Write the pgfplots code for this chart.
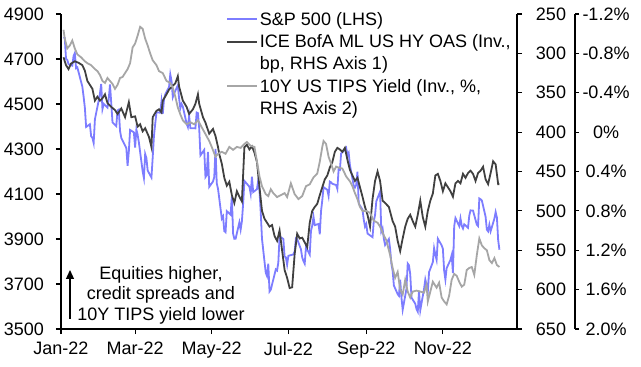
\documentclass[border=0pt]{standalone}
\usepackage{fontspec}
\setmainfont{Liberation Sans}
\usepackage{pgfplots}
\pgfplotsset{compat=1.18}
\usetikzlibrary{arrows.meta}
\definecolor{spblue}{RGB}{125,125,255}
\definecolor{hyblack}{RGB}{64,64,64}
\definecolor{tipsgray}{RGB}{166,166,166}
\pgfplotsset{
  base/.style={
    width=456bp, height=315bp, scale only axis,
    xmin=0, xmax=363,
    font=\fontsize{18bp}{21bp}\selectfont,
    /pgf/number format/assume math mode=true,
    /pgf/number format/1000 sep={},
    tick align=outside, major tick length=5bp,
    every tick/.style={black, line width=1.2bp},
    axis line style={black, line width=1.5bp},
  }
}
\begin{document}
\begin{tikzpicture}
\path[use as bounding box] (-61bp,-38bp) rectangle (580bp,329bp);
% S&P 500 (LHS)
\begin{axis}[base, axis x line*=bottom, axis y line*=left,
  ymin=3500, ymax=4900, ytick={3500,3700,...,4900},
  xtick={0,59,120,181,243,304},
  xticklabels={Jan-22,Mar-22,May-22,Jul-22,Sep-22,Nov-22},
  xticklabel style={anchor=north, inner sep=0pt, yshift=-8bp},
  yticklabel style={anchor=east, inner sep=0pt, xshift=-12bp}]
\addplot[spblue, line width=1.8bp] coordinates {
(2,4796.6)(3,4793.5)(4,4700.6)(5,4696.1)(6,4677.0)(9,4670.3)(10,4713.1)(11,4726.4)(12,4659.0)(13,4662.9)(17,4577.1)(18,4532.8)(19,4482.7)(20,4397.9)(23,4410.1)(24,4356.5)(25,4349.9)(26,4326.5)(27,4431.9)(30,4515.6)(31,4546.5)(32,4589.4)(33,4477.4)(34,4500.5)(37,4483.9)(38,4521.5)(39,4587.2)(40,4504.1)(41,4418.6)(44,4401.7)(45,4471.1)(46,4475.0)(47,4380.3)(48,4348.9)(52,4304.8)(53,4225.5)(54,4288.7)(55,4384.7)(58,4373.9)(59,4306.3)(60,4386.5)(61,4363.5)(62,4328.9)(65,4201.1)(66,4170.7)(67,4277.9)(68,4259.5)(69,4204.3)(72,4173.1)(73,4262.5)(74,4357.9)(75,4411.7)(76,4463.1)(79,4461.2)(80,4511.6)(81,4456.2)(82,4520.2)(83,4543.1)(86,4575.5)(87,4631.6)(88,4602.5)(89,4530.4)(90,4545.9)(93,4582.6)(94,4525.1)(95,4481.2)(96,4500.2)(97,4488.3)(100,4412.5)(101,4397.5)(102,4446.6)(103,4392.6)(107,4391.7)(108,4462.2)(109,4459.5)(110,4393.7)(111,4271.8)(114,4296.1)(115,4175.2)(116,4183.9)(117,4287.5)(118,4131.9)(121,4155.4)(122,4175.5)(123,4300.2)(124,4146.9)(125,4123.3)(128,3991.2)(129,4001.1)(130,3935.2)(131,3930.1)(132,4023.9)(135,4008.0)(136,4088.9)(137,3923.7)(138,3900.8)(139,3901.4)(142,3973.8)(143,3941.5)(144,3978.7)(145,4057.8)(146,4158.2)(150,4132.2)(151,4101.2)(152,4176.8)(153,4108.5)(156,4121.4)(157,4160.7)(158,4115.8)(159,4017.8)(160,3900.9)(163,3749.6)(164,3735.5)(165,3790.0)(166,3666.8)(167,3674.8)(171,3764.8)(172,3759.9)(173,3795.7)(174,3911.7)(177,3900.1)(178,3821.6)(179,3818.8)(180,3785.4)(181,3825.3)(185,3831.4)(186,3845.1)(187,3902.6)(188,3899.4)(191,3854.4)(192,3818.8)(193,3801.8)(194,3790.4)(195,3863.2)(198,3830.9)(199,3936.7)(200,3959.9)(201,3998.9)(202,3961.6)(205,3966.8)(206,3921.1)(207,4023.6)(208,4072.4)(209,4130.3)(212,4118.6)(213,4091.2)(214,4155.2)(215,4151.9)(216,4145.2)(219,4140.1)(220,4122.5)(221,4210.2)(222,4207.3)(223,4280.2)(226,4297.1)(227,4305.2)(228,4274.0)(229,4283.7)(230,4228.5)(233,4137.9)(234,4128.7)(235,4140.8)(236,4199.1)(237,4057.7)(240,4030.6)(241,3986.2)(242,3955.0)(243,3966.9)(244,3924.3)(248,3908.2)(249,3979.9)(250,4006.2)(251,4067.4)(254,4110.4)(255,3932.7)(256,3946.0)(257,3901.4)(258,3873.3)(261,3899.9)(262,3855.9)(263,3789.9)(264,3757.9)(265,3693.2)(268,3655.0)(269,3647.3)(270,3719.0)(271,3640.5)(272,3585.6)(275,3678.4)(276,3790.9)(277,3783.3)(278,3744.5)(279,3639.7)(282,3612.4)(283,3588.8)(284,3577.0)(285,3669.9)(286,3583.1)(289,3677.9)(290,3719.9)(291,3695.2)(292,3665.8)(293,3752.8)(296,3797.3)(297,3859.1)(298,3830.6)(299,3807.3)(300,3901.1)(303,3871.9)(304,3856.1)(305,3759.7)(306,3719.9)(307,3770.6)(310,3806.8)(311,3828.1)(312,3748.6)(313,3956.4)(314,3992.9)(317,3957.3)(318,3991.7)(319,3958.8)(320,3946.6)(321,3965.3)(324,3949.9)(325,4003.6)(326,4027.3)(328,4026.1)(331,3963.9)(332,3957.6)(333,4080.1)(334,4076.6)(335,4071.7)(338,3998.8)(339,3941.3)(340,3933.9)(341,3963.5)(342,3934.4)(345,3990.6)(346,4019.7)(347,3995.3)(348,3895.8)(349,3852.4)
};
\end{axis}
% HY OAS (RHS axis 1, inverted)
\begin{axis}[base, hide x axis, axis y line*=right, y dir=reverse,
  ymin=250, ymax=650, ytick={250,300,...,650},
  yticklabel style={anchor=center, inner sep=0pt, xshift=29bp}]
\addplot[hyblack, line width=1.8bp] coordinates {
(2,305)(4,315)(6,320)(8,313)(11,310)(14,312)(17,315)(19,322)(21,335)(23,340)(25,345)(27,360)(29,355)(31,360)(33,357)(35,352)(37,363)(40,368)(43,372)(45,377)(48,370)(51,381)(54,362)(56,381)(59,380)(61,393)(63,390)(65,399)(67,395)(70,406)(72,419)(73,381)(76,373)(78,371)(80,375)(81,360)(84,352)(86,346)(89,341)(91,338)(93,329)(94,342)(97,360)(100,368)(102,377)(105,371)(107,364)(109,352)(110,364)(113,381)(115,388)(118,402)(121,396)(123,405)(125,419)(126,428)(128,440)(130,458)(132,468)(134,463)(136,480)(138,490)(140,475)(142,482)(144,488)(146,419)(148,416)(150,422)(152,418)(154,426)(156,438)(158,470)(160,500)(162,510)(164,515)(166,520)(168,518)(170,532)(172,538)(174,525)(176,550)(178,575)(180,585)(182,598)(184,597)(186,555)(188,529)(190,535)(192,534)(194,540)(196,546)(198,515)(200,500)(202,495)(204,491)(206,480)(208,470)(210,460)(212,455)(214,445)(216,438)(218,425)(220,420)(222,422)(224,425)(226,420)(228,435)(230,448)(232,455)(234,462)(236,458)(238,470)(240,482)(242,495)(244,505)(246,520)(248,485)(250,462)(252,450)(254,462)(256,487)(258,490)(261,495)(264,513)(266,520)(268,538)(270,551)(272,535)(274,520)(276,510)(278,505)(280,513)(282,520)(284,505)(286,487)(288,508)(290,520)(292,500)(294,487)(296,478)(298,455)(300,453)(302,462)(304,475)(306,465)(308,470)(310,475)(312,482)(314,465)(316,462)(318,465)(320,453)(322,458)(324,452)(326,449)(328,453)(330,462)(332,452)(334,449)(336,444)(338,460)(340,466)(342,452)(344,437)(346,441)(348,466)(349,466)
};
\end{axis}
% TIPS (RHS axis 2, inverted) data + legend
\begin{axis}[base, hide axis, y dir=reverse, ymin=-1.2, ymax=2.0,
  legend style={at={(0.3618,1.0068)}, anchor=north west, draw=none, fill=none,
    inner sep=0pt, row sep=7.8bp, column sep=2bp,
    nodes={inner sep=0pt},
    font=\fontsize{18bp}{21bp}\selectfont},
  legend cell align=left,
  legend image post style={line width=1.8bp},
  legend image code/.code={\draw[#1] (0bp,0bp) -- (30bp,0bp);}]
\addlegendimage{color=spblue, line width=1.8bp}
\addlegendentry{S\&P 500 (LHS)}
\addlegendimage{color=hyblack, line width=1.8bp}
\addlegendentry{ICE BofA ML US HY OAS (Inv.,}
\addlegendimage{empty legend}
\addlegendentry{bp, RHS Axis 1)}
\addplot[color=tipsgray, line width=1.8bp] coordinates {
(2,-1.04)(3,-0.95)(5,-0.85)(7,-0.88)(9,-0.93)(11,-0.85)(13,-0.79)(16,-0.76)(19,-0.72)(21,-0.70)(24,-0.68)(27,-0.64)(29,-0.62)(31,-0.58)(33,-0.52)(35,-0.50)(37,-0.55)(39,-0.52)(41,-0.49)(43,-0.44)(45,-0.48)(47,-0.55)(49,-0.56)(51,-0.60)(53,-0.64)(55,-0.70)(57,-0.86)(59,-0.90)(61,-0.98)(63,-1.07)(65,-1.05)(67,-0.95)(69,-0.88)(71,-0.80)(73,-0.73)(76,-0.68)(78,-0.62)(81,-0.60)(84,-0.52)(87,-0.50)(89,-0.45)(91,-0.36)(93,-0.25)(95,-0.18)(97,-0.12)(100,-0.08)(103,-0.10)(106,-0.08)(109,-0.12)(112,-0.05)(115,0.02)(118,0.09)(120,0.15)(123,0.25)(125,0.22)(128,0.20)(131,0.22)(134,0.15)(137,0.18)(140,0.15)(143,0.16)(146,0.12)(148,0.10)(151,0.14)(154,0.15)(156,0.30)(158,0.45)(160,0.55)(163,0.63)(165,0.65)(167,0.58)(169,0.62)(172,0.66)(175,0.64)(178,0.62)(180,0.66)(183,0.52)(186,0.63)(189,0.68)(192,0.65)(195,0.55)(198,0.53)(201,0.46)(204,0.42)(206,0.30)(208,0.15)(209,0.09)(211,0.12)(213,0.25)(215,0.32)(217,0.40)(219,0.35)(221,0.36)(224,0.37)(227,0.45)(230,0.50)(232,0.55)(234,0.62)(236,0.68)(238,0.76)(240,0.80)(243,0.80)(246,0.82)(249,0.90)(252,0.92)(254,0.96)(257,1.05)(259,1.10)(262,1.25)(264,1.38)(266,1.48)(268,1.42)(270,1.60)(272,1.65)(274,1.50)(276,1.62)(278,1.68)(280,1.62)(283,1.61)(286,1.62)(289,1.63)(291,1.55)(292,1.72)(294,1.62)(296,1.52)(299,1.58)(301,1.53)(303,1.68)(305,1.72)(307,1.75)(309,1.66)(311,1.50)(313,1.44)(315,1.46)(317,1.52)(319,1.57)(321,1.55)(323,1.40)(325,1.38)(327,1.37)(329,1.45)(331,1.25)(333,1.08)(335,1.15)(337,1.18)(339,1.20)(341,1.30)(343,1.33)(345,1.28)(347,1.35)(349,1.37)
};
\addlegendentry{10Y US TIPS Yield (Inv., \%,}
\addlegendimage{empty legend}
\addlegendentry{RHS Axis 2)}
\end{axis}
% TIPS scale (offset right axis)
\begin{axis}[base, at={(58bp,0bp)}, hide x axis, axis y line*=right, y dir=reverse,
  ymin=-1.2, ymax=2.0,
  ytick={-1.2,-0.8,-0.4,0,0.4,0.8,1.2,1.6,2.0},
  yticklabels={-1.2\%,-0.8\%,-0.4\%,0\%,0.4\%,0.8\%,1.2\%,1.6\%,2.0\%},
  major tick length=4bp,
  yticklabel style={anchor=center, inner sep=0pt, xshift=27bp}]
\end{axis}
% annotation
\draw[line width=1.3bp, -{Triangle[length=9bp, width=8bp]}] (9bp,10bp) -- (9bp,59bp);
\node[anchor=base, inner sep=0pt, font=\fontsize{18bp}{21bp}\selectfont] at (100bp,49.7bp) {Equities higher,};
\node[anchor=base, inner sep=0pt, font=\fontsize{18bp}{21bp}\selectfont] at (100bp,29.7bp) {credit spreads and};
\node[anchor=base, inner sep=0pt, font=\fontsize{18bp}{21bp}\selectfont] at (100bp,8.5bp) {10Y TIPS yield lower};
\end{tikzpicture}
\end{document}
